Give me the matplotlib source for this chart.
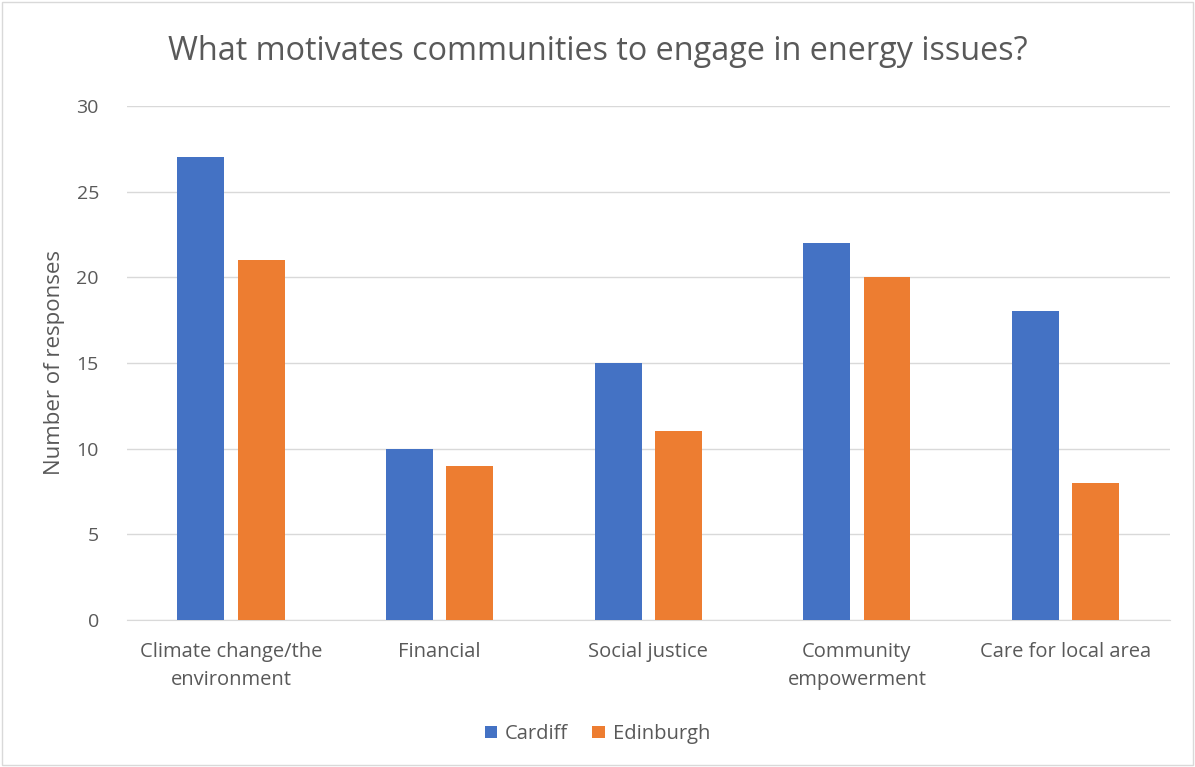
import numpy as np
from matplotlib import pyplot as plt

categories = ['Climate change/the\nenvironment', 'Financial', 'Social justice',
              'Community\nempowerment', 'Care for local area']
cardiff = [27, 10, 15, 22, 18]
edinburgh = [21, 9, 11, 20, 8]

plt.rcParams['font.family'] = ['Open Sans', 'DejaVu Sans']
text_color = '#595959'

fig = plt.figure(figsize=(11.95, 7.67), dpi=100)
ax = fig.add_axes([0.106, 0.1917, 0.873, 0.6703])

x = np.arange(len(categories))
width = 0.225
ax.bar(x - 0.144, cardiff, width, color='#4472C4', label='Cardiff', zorder=3)
ax.bar(x + 0.144, edinburgh, width, color='#ED7D31', label='Edinburgh', zorder=3)

ax.set_xlim(-0.5, len(categories) - 0.5)
ax.set_ylim(0, 30)
ax.set_yticks(range(0, 31, 5))
ax.set_xticks(x)
ax.set_xticklabels(categories, fontsize=14.5, color=text_color, linespacing=1.5)
ax.tick_params(axis='y', labelsize=14, labelcolor=text_color, length=0, pad=20)
ax.tick_params(axis='x', length=0, pad=16)
ax.grid(axis='y', color='#D9D9D9', linewidth=1, zorder=0)
for side in ['top', 'right', 'left']:
    ax.spines[side].set_visible(False)
ax.spines['bottom'].set_color('#D9D9D9')

ax.set_ylabel('Number of responses', fontsize=16, color=text_color, labelpad=8)
fig.text(0.5, 0.933, 'What motivates communities to engage in energy issues?',
         ha='center', va='center', fontsize=23.3, color=text_color)

fig.legend(loc='center', bbox_to_anchor=(0.5, 0.043), ncol=2, frameon=False,
           fontsize=14.5, labelcolor=text_color, handlelength=0.6, handleheight=0.6,
           columnspacing=1.2, handletextpad=0.4)

border = plt.Rectangle((0.002, 0.002), 0.996, 0.996, transform=fig.transFigure,
                       fill=False, edgecolor='#D9D9D9', linewidth=1)
fig.patches.append(border)

fig.savefig('out.png', dpi=100)
